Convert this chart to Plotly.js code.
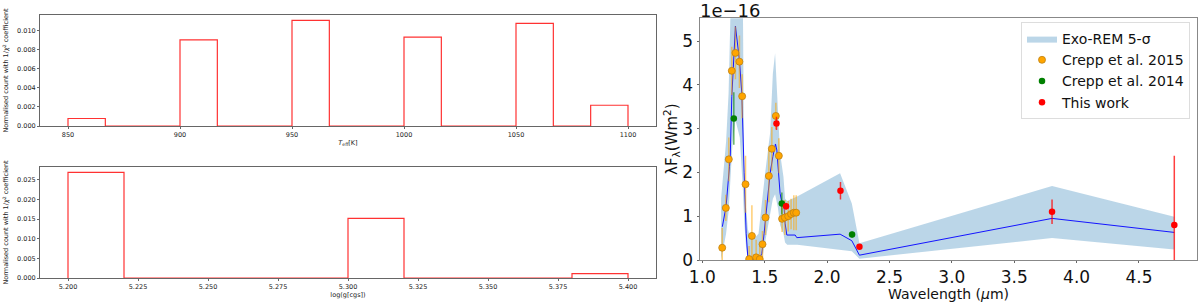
<!DOCTYPE html>
<html>
<head>
<meta charset="utf-8">
<script src="https://cdn.plot.ly/plotly-3.0.1.min.js"></script>
<style>html,body{margin:0;padding:0;background:#fff;}#chart{width:1200px;height:302px;}</style>
</head>
<body>
<div id="chart"></div>
<script>
// ---- Histogram of Teff (normalised count with 1/chi^2 weights) ----
const teffBinEdges = [850, 866.67, 883.33, 900, 916.67, 933.33, 950, 966.67, 983.33, 1000, 1016.67, 1033.33, 1050, 1066.67, 1083.33, 1100];
const teffCounts   = [0.00079, 0, 0, 0.00905, 0, 0, 0.0111, 0, 0, 0.00934, 0, 0, 0.01077, 0, 0.00218];

// ---- Histogram of log(g) ----
const loggBinEdges = [5.20, 5.22, 5.24, 5.26, 5.28, 5.30, 5.32, 5.34, 5.36, 5.38, 5.40];
const loggCounts   = [0.02688, 0, 0, 0, 0, 0.01518, 0, 0, 0, 0.0011];

// ---- Spectrum (values in units of 1e-16 W m^-2) ----
const bandWl    = [1.150, 1.165, 1.190, 1.210, 1.225, 1.240, 1.265, 1.300, 1.325, 1.335, 1.350, 1.365, 1.380, 1.420, 1.450, 1.477, 1.503, 1.543, 1.565, 1.583, 1.605, 1.623, 1.650, 1.663, 1.680, 1.760, 2.104, 2.198, 2.259, 3.803, 4.783];
const bandLower = [0.00, 0.20, 0.60, 1.10, 1.80, 2.60, 3.20, 2.80, 1.60, 0.90, 0.30, 0.00, 0.00, 0.00, 0.00, 0.00, 0.40, 1.00, 1.40, 1.50, 1.20, 0.80, 0.60, 0.40, 0.35, 0.35, 0.23, 0.20, 0.03, 0.50, 0.24];
const bandUpper = [1.40, 1.90, 2.70, 3.80, 5.60, 6.00, 6.00, 6.00, 5.80, 2.00, 1.20, 0.70, 0.55, 0.50, 0.60, 1.36, 1.98, 2.90, 4.26, 4.72, 3.30, 2.44, 1.90, 1.40, 1.35, 1.45, 1.98, 1.29, 0.38, 1.69, 0.99];

const modelWl   = [1.160, 1.190, 1.217, 1.223, 1.236, 1.241, 1.265, 1.297, 1.316, 1.335, 1.351, 1.364, 1.380, 1.450, 1.477, 1.495, 1.517, 1.543, 1.565, 1.586, 1.597, 1.610, 1.623, 1.639, 1.655, 1.663, 1.677, 1.744, 1.757, 2.104, 2.198, 2.259, 3.803, 4.783];
const modelFlux = [0.76, 1.22, 2.13, 2.33, 3.73, 4.07, 5.34, 4.57, 3.81, 1.99, 0.61, 0.08, 0.00, 0.00, 0.15, 0.61, 1.22, 1.98, 2.36, 2.65, 2.51, 1.90, 1.52, 1.28, 1.22, 0.84, 0.57, 0.57, 0.51, 0.59, 0.44, 0.11, 0.95, 0.63];

const crepp15Wl   = [1.159, 1.188, 1.212, 1.236, 1.265, 1.297, 1.319, 1.346, 1.375, 1.397, 1.431, 1.460, 1.482, 1.506, 1.533, 1.557, 1.589, 1.613, 1.639, 1.661, 1.688, 1.711, 1.733, 1.752];
const crepp15Flux = [0.28, 1.19, 2.30, 4.32, 4.73, 4.53, 3.74, 1.73, 0.02, 0.55, 0.06, 0.02, 0.36, 0.97, 1.92, 2.54, 3.29, 2.38, 0.94, 0.97, 1.00, 1.05, 1.08, 1.08];
const crepp15Err  = [0.45, 0.30, 0.50, 0.55, 0.60, 0.60, 0.50, 0.65, 0.30, 0.70, 0.40, 0.30, 0.30, 0.40, 0.60, 0.50, 0.30, 0.40, 0.30, 0.40, 0.35, 0.35, 0.40, 0.40];

const crepp14Wl   = [1.252, 1.637, 2.200];
const crepp14Flux = [3.23, 1.29, 0.58];
const crepp14Err  = [0.60, 0.25, 0.07];

const thisWl   = [1.594, 1.671, 2.107, 2.259, 3.803, 4.783];
const thisFlux = [3.12, 1.23, 1.58, 0.30, 1.10, 0.80];
const thisErr  = [0.15, 0.08, 0.20, 0.05, 0.28, 1.58];

// ---- Tick values ----
const teffTicks = [850, 900, 950, 1000, 1050, 1100];
const loggTicks = [5.200, 5.225, 5.250, 5.275, 5.300, 5.325, 5.350, 5.375, 5.400];
const wlTicks   = [1.0, 1.5, 2.0, 2.5, 3.0, 3.5, 4.0, 4.5];

function stepPath(edges, counts) {
  const xs = [edges[0]], ys = [0];
  for (let i = 0; i < counts.length; i++) { xs.push(edges[i]); ys.push(counts[i]); }
  xs.push(edges[edges.length - 1]); ys.push(0);
  return {x: xs, y: ys};
}

const tStep = stepPath(teffBinEdges, teffCounts);
const gStep = stepPath(loggBinEdges, loggCounts);

const FONT = 'DejaVu Sans, sans-serif';
const histLine = {color: 'rgb(255,50,50)', width: 1.2, shape: 'hv'};

const traces = [
  {x: tStep.x, y: tStep.y, xaxis: 'x', yaxis: 'y', mode: 'lines', line: histLine, showlegend: false, hoverinfo: 'skip'},
  {x: gStep.x, y: gStep.y, xaxis: 'x2', yaxis: 'y2', mode: 'lines', line: histLine, showlegend: false, hoverinfo: 'skip'},
  {x: bandWl, y: bandLower, xaxis: 'x3', yaxis: 'y3', mode: 'lines', line: {width: 0, color: 'rgba(0,0,0,0)'}, showlegend: false, hoverinfo: 'skip'},
  {x: bandWl, y: bandUpper, xaxis: 'x3', yaxis: 'y3', mode: 'lines', fill: 'tonexty', fillcolor: 'rgba(31,119,180,0.3)', line: {width: 0, color: 'rgba(31,119,180,0.3)'}, name: 'Exo-REM 5-σ'},
  {x: modelWl, y: modelFlux, xaxis: 'x3', yaxis: 'y3', mode: 'lines', line: {color: 'rgb(20,20,255)', width: 1}, showlegend: false},
  {x: crepp15Wl, y: crepp15Flux, xaxis: 'x3', yaxis: 'y3', mode: 'markers', name: 'Crepp et al. 2015',
   marker: {color: 'orange', size: 7, line: {color: 'rgb(190,130,20)', width: 0.8}},
   error_y: {type: 'data', array: crepp15Err, visible: true, color: 'rgba(255,165,0,0.55)', thickness: 1.5, width: 0}},
  {x: crepp14Wl, y: crepp14Flux, xaxis: 'x3', yaxis: 'y3', mode: 'markers', name: 'Crepp et al. 2014',
   marker: {color: 'green', size: 6.5},
   error_y: {type: 'data', array: crepp14Err, visible: true, color: 'rgba(0,128,0,0.6)', thickness: 1.5, width: 0}},
  {x: thisWl, y: thisFlux, xaxis: 'x3', yaxis: 'y3', mode: 'markers', name: 'This work',
   marker: {color: 'red', size: 6.5},
   error_y: {type: 'data', array: thisErr, visible: true, color: 'rgba(255,0,0,0.75)', thickness: 1.5, width: 0}}
];

const smallAxis = {
  showgrid: false, zeroline: false, showline: true, mirror: true, linecolor: '#666', linewidth: 1,
  ticks: 'outside', ticklen: 2, tickcolor: '#666', tickfont: {family: FONT, size: 6.5, color: '#222'}
};
const bigAxis = {
  showgrid: false, zeroline: false, showline: true, mirror: true, linecolor: '#888', linewidth: 1,
  ticks: 'outside', ticklen: 2, tickcolor: '#666', tickfont: {family: FONT, size: 17, color: '#111'}
};

const layout = {
  width: 1200, height: 302,
  margin: {l: 0, r: 0, t: 0, b: 0},
  paper_bgcolor: '#fff', plot_bgcolor: '#fff',
  font: {family: FONT},
  showlegend: true,
  xaxis: Object.assign({}, smallAxis, {domain: [40/1200, 656/1200], anchor: 'y', range: [837.5, 1112.5],
    tickvals: teffTicks, ticktext: teffTicks.map(String),
    title: {text: '<i>T</i><sub>eff</sub>[K]', font: {family: FONT, size: 6.5, color: '#222'}, standoff: 2}}),
  yaxis: Object.assign({}, smallAxis, {domain: [1 - 126/302, 1 - 15/302], anchor: 'x', range: [0, 0.01166],
    tickvals: [0, 0.002, 0.004, 0.006, 0.008, 0.010], tickformat: '.3f',
    title: {text: 'Normalised count with 1/<i>χ</i><sup>2</sup> coefficient', font: {family: FONT, size: 6.5, color: '#222'}, standoff: 7}}),
  xaxis2: Object.assign({}, smallAxis, {domain: [40/1200, 656/1200], anchor: 'y2', range: [5.19, 5.41],
    tickvals: loggTicks, tickformat: '.3f',
    title: {text: 'log(g[cgs])', font: {family: FONT, size: 6.5, color: '#222'}, standoff: 2}}),
  yaxis2: Object.assign({}, smallAxis, {domain: [1 - 278/302, 1 - 167/302], anchor: 'x2', range: [0, 0.02823],
    tickvals: [0, 0.005, 0.010, 0.015, 0.020, 0.025], tickformat: '.3f',
    title: {text: 'Normalised count with 1/<i>χ</i><sup>2</sup> coefficient', font: {family: FONT, size: 6.5, color: '#222'}, standoff: 7}}),
  xaxis3: Object.assign({}, bigAxis, {domain: [699.5/1200, 1197/1200], anchor: 'y3', range: [0.977, 4.965],
    tickvals: wlTicks, tickformat: '.1f'}),
  yaxis3: Object.assign({}, bigAxis, {domain: [1 - 260/302, 1 - 18.3/302], anchor: 'x3', range: [0, 5.52],
    tickvals: [0, 1, 2, 3, 4, 5],
    title: {text: 'λF<sub>λ</sub>(Wm<sup>2</sup>)', font: {family: FONT, size: 15, color: '#111'}, standoff: 0}}),
  legend: {
    x: 1190/1200, xanchor: 'right', y: 1 - 22/302, yanchor: 'top', traceorder: 'normal',
    bgcolor: 'rgba(255,255,255,0.8)', bordercolor: '#ddd', borderwidth: 1,
    font: {family: FONT, size: 14, color: '#111'}, itemsizing: 'trace', tracegroupgap: 0
  },
  annotations: [
    {text: '1e−16', xref: 'paper', yref: 'paper', x: 699/1200, y: 1 - 11/302, xanchor: 'left', yanchor: 'middle',
     showarrow: false, borderpad: 0, font: {family: FONT, size: 18, color: '#111'}},
    {text: 'Wavelength (<i>μ</i>m)', xref: 'x3 domain', yref: 'paper', x: 0.5, y: 1 - 285/302, xanchor: 'center', yanchor: 'top',
     showarrow: false, borderpad: 0, font: {family: FONT, size: 14, color: '#111'}}
  ]
};

Plotly.newPlot('chart', traces, layout, {displayModeBar: false, staticPlot: true});
</script>
</body>
</html>
